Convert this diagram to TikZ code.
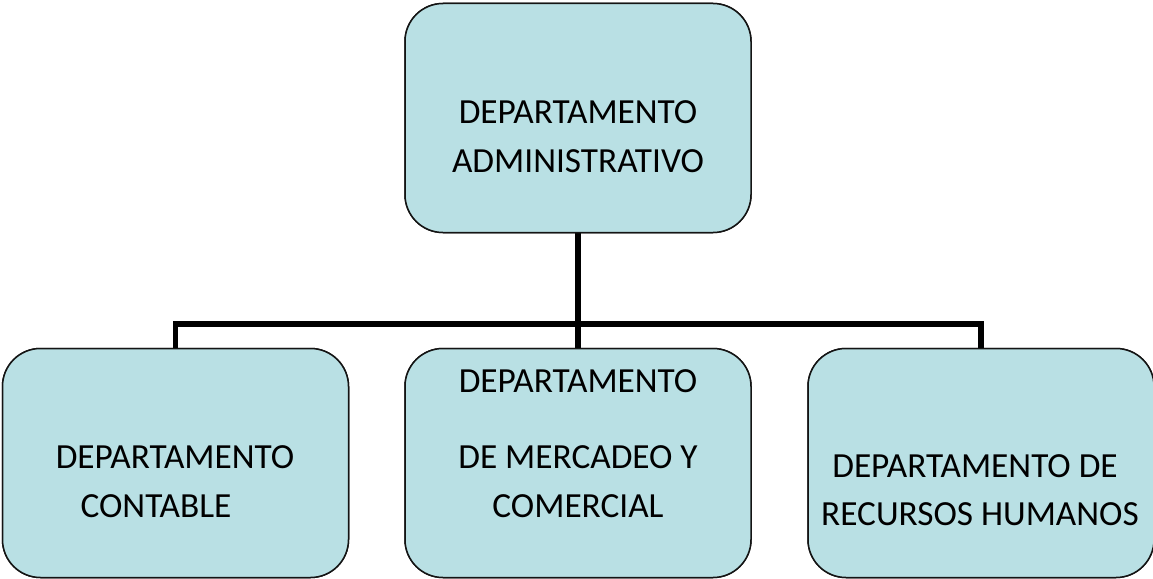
\documentclass[tikz,border=0pt]{standalone}
\usepackage{fontspec}
\setmainfont{Carlito}
\definecolor{boxfill}{RGB}{185,224,228}
\definecolor{boxline}{RGB}{20,20,20}
\begin{document}
\begin{tikzpicture}[x=1pt,y=-1pt,
  dept/.style={draw=boxline,fill=boxfill,line width=1.5pt,rounded corners=38pt,
    minimum width=346pt,minimum height=229pt,inner sep=0pt},
  lbl/.style={anchor=base,inner sep=0pt,font=\fontsize{35.3}{40}\selectfont},
  link/.style={line width=5.5pt,line join=miter}]
\useasboundingbox (0,0) rectangle (1153,578);
\node[dept] (top) at (578,118) {};
\node[dept] (left) at (175.5,463) {};
\node[dept] (mid) at (578,463) {};
\node[dept] (right) at (981,463) {};
\coordinate (bus) at (578,324);
\draw[link] (top.south) -- (bus) -| (left.north);
\draw[link] (bus) -| (right.north);
\draw[link] (bus) -- (mid.north);
\node[dept] at (top) {};
\node[dept] at (left) {};
\node[dept] at (mid) {};
\node[dept] at (right) {};
\node[lbl] (t1) at (578,123) {DEPARTAMENTO};
\node[lbl] (t2) at (578,172) {ADMINISTRATIVO};
\node[lbl] (l1) at (175,468) {DEPARTAMENTO};
\node[lbl] (l2) at (156,517) {CONTABLE};
\node[lbl] (m1) at (578,392) {DEPARTAMENTO};
\node[lbl] (m2) at (578,468) {DE MERCADEO Y};
\node[lbl] (m3) at (578,517) {COMERCIAL};
\node[lbl] (r1) at (975,477) {DEPARTAMENTO DE};
\node[lbl] (r2) at (980,525) {RECURSOS HUMANOS};
\end{tikzpicture}
\end{document}
